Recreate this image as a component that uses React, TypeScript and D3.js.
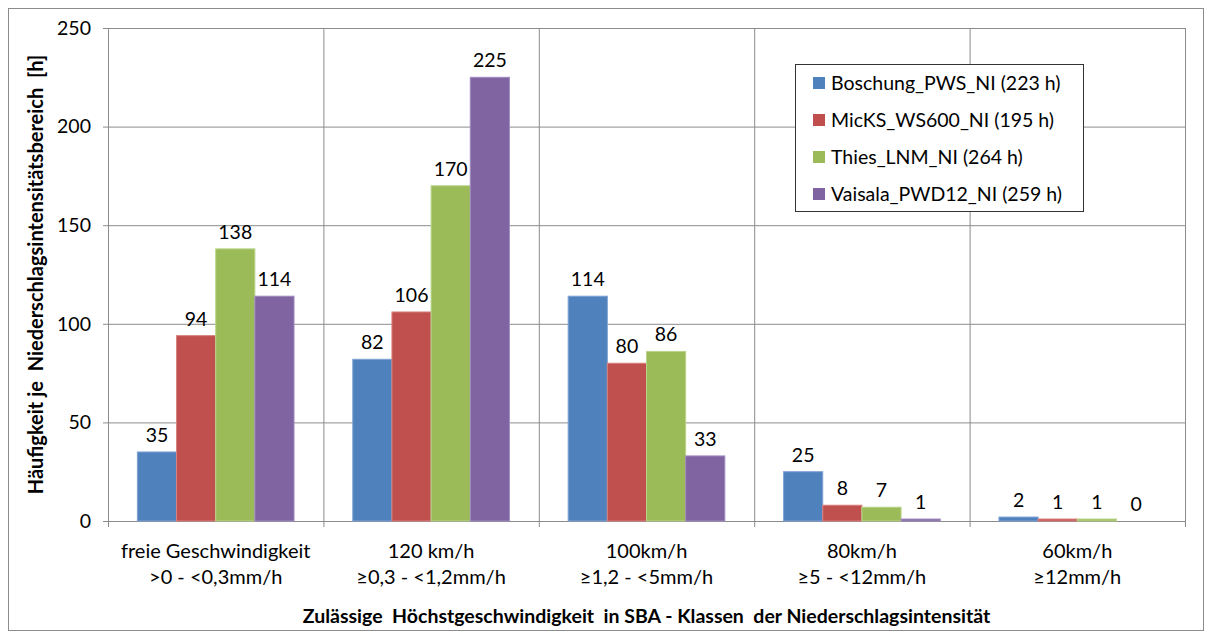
import React from "react";
import * as d3 from "d3";

const categories: string[][] = [
  ["freie Geschwindigkeit", ">0 - <0,3mm/h"],
  ["120 km/h", "≥0,3 - <1,2mm/h"],
  ["100km/h", "≥1,2 - <5mm/h"],
  ["80km/h", "≥5 - <12mm/h"],
  ["60km/h", "≥12mm/h"],
];
const seriesNames = [
  "Boschung_PWS_NI (223 h)",
  "MicKS_WS600_NI (195 h)",
  "Thies_LNM_NI (264 h)",
  "Vaisala_PWD12_NI (259 h)",
];
const boschung = [35, 82, 114, 25, 2];
const micks = [94, 106, 80, 8, 1];
const thies = [138, 170, 86, 7, 1];
const vaisala = [114, 225, 33, 1, 0];
const yTicks = [0, 50, 100, 150, 200, 250];
const colors = ["#4F81BD", "#C0504D", "#9BBB59", "#8064A2"];
const edges = ["#7EA2D4", "#D9807E", "#BAD48A", "#A08CC0"];

const W = 1212;
const H = 632;
const FONT = "Lato, 'Open Sans', sans-serif";
const FS = 19.5;

export default function App() {
  const series = [boschung, micks, thies, vaisala];
  const left = 108, right = 1185, top = 28, bottom = 521;
  const x = d3.scaleBand<number>().domain(d3.range(categories.length)).range([left, right]).paddingInner(0).paddingOuter(0);
  const bw = x.bandwidth();
  const inner = d3.scaleBand<number>().domain(d3.range(series.length)).range([0, bw]).paddingOuter(0.75).paddingInner(0);
  const y = d3.scaleLinear().domain([0, 250]).range([bottom, top]);
  const grid = "#8C8C8C";

  return (
    <svg width={W} height={H} style={{ position: "absolute", left: 0, top: 0 }}>
      <rect x={0} y={0} width={W} height={H} fill="#fff" />
      <rect x={8.5} y={8.5} width={1195} height={622} fill="#fff" stroke="#8C8C8C" />
      {/* horizontal gridlines */}
      {yTicks.map((t) => (
        <line key={"g" + t} x1={left} x2={right} y1={y(t) + 0.5} y2={y(t) + 0.5} stroke={grid} strokeWidth={1} />
      ))}
      {/* vertical gridlines at category boundaries */}
      {d3.range(1, categories.length + 1).map((i) => (
        <line key={"v" + i} x1={left + i * bw + 0.5} x2={left + i * bw + 0.5} y1={top} y2={bottom + 6} stroke={grid} />
      ))}
      {/* y axis */}
      <line x1={left + 0.5} x2={left + 0.5} y1={top} y2={bottom + 6} stroke={grid} />
      {yTicks.map((t) => (
        <g key={"t" + t}>
          <line x1={left - 5} x2={left} y1={y(t) + 0.5} y2={y(t) + 0.5} stroke={grid} />
          <text x={left - 17} y={y(t)} dy="0.35em" textAnchor="end" fontFamily={FONT} fontSize={FS} fill="#000">
            {t}
          </text>
        </g>
      ))}
      {/* bars */}
      {series.map((vals, s) =>
        vals.map((v, i) => {
          const bx = (x(i) as number) + (inner(s) as number);
          const iw = inner.bandwidth();
          return (
            <g key={s + "-" + i}>
              <rect x={bx} y={y(v)} width={iw} height={Math.max(y(0) - y(v), v === 0 ? 0 : 1)} fill={colors[s]} stroke={edges[s]} strokeWidth={1} />
              <text x={bx + iw / 2} y={y(v) - 10} textAnchor="middle" fontFamily={FONT} fontSize={FS} fill="#000">
                {v}
              </text>
            </g>
          );
        })
      )}
      {/* category labels */}
      {categories.map((lines, i) => (
        <text key={"c" + i} x={(x(i) as number) + bw / 2} textAnchor="middle" fontFamily={FONT} fontSize={20} fill="#000">
          <tspan x={(x(i) as number) + bw / 2} y={558}>{lines[0]}</tspan>
          <tspan x={(x(i) as number) + bw / 2} y={584}>{lines[1]}</tspan>
        </text>
      ))}
      {/* axis titles */}
      <text x={(left + right) / 2} y={623} textAnchor="middle" fontFamily={FONT} fontWeight="bold" fontSize={19.5} fill="#000" style={{ whiteSpace: "pre" }}>
        {"Zulässige  Höchstgeschwindigkeit  in SBA - Klassen  der Niederschlagsintensität"}
      </text>
      <text transform={`translate(43,${(top + bottom) / 2}) rotate(-90)`} textAnchor="middle" fontFamily={FONT} fontWeight="bold" fontSize={20} fill="#000" style={{ whiteSpace: "pre" }}>
        {"Häufigkeit je  Niederschlagsintensitätsbereich  [h]"}
      </text>
      {/* legend */}
      <rect x={795.5} y={64.5} width={288} height={147} fill="#fff" stroke="#333" />
      {seriesNames.map((n, s) => (
        <g key={"l" + s}>
          <rect x={813} y={77 + s * 37} width={12} height={12} fill={colors[s]} />
          <text x={831} y={83 + s * 37} dy="0.35em" fontFamily={FONT} fontSize={FS} fill="#000">
            {n}
          </text>
        </g>
      ))}
    </svg>
  );
}
